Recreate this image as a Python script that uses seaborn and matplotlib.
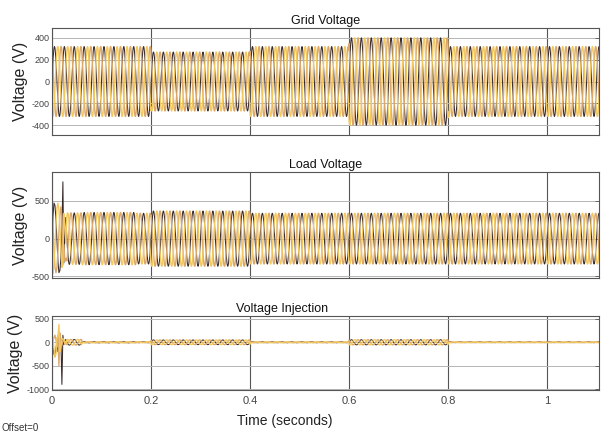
import numpy as np
import pandas as pd
import seaborn as sns
import matplotlib.pyplot as plt

# three phase waveforms, 50 Hz
phases = ['Va', 'Vb', 'Vc']
phase_shift_deg = [0, -120, 120]
freq_hz = 50

# piecewise peak amplitude (V) between these times (s)
seg_edges = [0.0, 0.03, 0.06, 0.17, 0.2, 0.4, 0.6, 0.8, 1.107]
grid_peak = [320, 320, 320, 320, 270, 320, 400, 320]
load_peak = [335, 340, 345, 335, 365, 335, 335, 335]
inject_peak = [0, 60, 12, 10, 50, 10, 55, 8]

# start-up transient, sampled every 2 ms from 0 to 0.028 s
tr_time = [0.000, 0.002, 0.004, 0.006, 0.008, 0.010, 0.012, 0.014,
           0.016, 0.018, 0.020, 0.022, 0.024, 0.026, 0.028]
load_tr = {
    'Va': [0, 300, 470, 440, 250, -20, -300, -450, -420, -250, 100, 750, -320, 120, 280],
    'Vb': [-420, -460, -330, -100, 180, 400, 470, 380, 150, -120, -380, -300, 330, 200, -60],
    'Vc': [420, 160, -140, -380, -450, -380, -170, 80, 300, 420, 300, -350, -80, -300, -260],
}
inject_tr = {
    'Va': [0, -100, -250, -300, -150, 50, -200, -120, 150, 60, -900, 150, -50, 40, 60],
    'Vb': [0, 80, -150, -320, -250, 100, 120, 380, -200, -100, 60, 80, 50, -30, -40],
    'Vc': [0, 20, 100, 150, 60, -100, 150, -500, 200, -50, -60, 20, 50, 10, -30],
}

time_label = 'Time (seconds)'
x_ticks = [0, 0.2, 0.4, 0.6, 0.8, 1]
x_tick_labels = ['0', '0.2', '0.4', '0.6', '0.8', '1']

palette = {'Va': '#3a2b2b', 'Vb': '#f3c85e', 'Vc': '#dba86a'}
widths = {'Va': 0.75, 'Vb': 1.0, 'Vc': 1.0}
draw_order = ['Va', 'Vc', 'Vb']


def build(peaks, transient=None):
    rows = []
    t_start = tr_time[-1] + 0.002 if transient else 0.0
    t = np.arange(t_start, seg_edges[-1], 0.0002)
    amp = np.array(peaks)[np.clip(np.searchsorted(seg_edges, t, side='right') - 1, 0, len(peaks) - 1)]
    for ph, sh in zip(phases, phase_shift_deg):
        v = amp * np.sin(2 * np.pi * freq_hz * t + np.deg2rad(sh))
        if transient:
            rows.append(pd.DataFrame({'time': tr_time, 'voltage': transient[ph], 'phase': ph}))
        rows.append(pd.DataFrame({'time': t, 'voltage': v, 'phase': ph}))
    return pd.concat(rows, ignore_index=True)


grid_df = build(grid_peak)
load_df = build(load_peak, load_tr)
inject_df = build(inject_peak, inject_tr)

sns.set_theme(style='white')
plt.rcParams['font.family'] = ['Liberation Sans', 'DejaVu Sans']
plt.rcParams['axes.unicode_minus'] = False

fig = plt.figure(figsize=(6.01, 4.32), dpi=100)
L, W = 52 / 601, 547 / 601
ax1 = fig.add_axes([L, 1 - 135 / 432, W, 107 / 432])
ax2 = fig.add_axes([L, 1 - 278 / 432, W, 106 / 432])
ax3 = fig.add_axes([L, 1 - 390 / 432, W, 74 / 432])

panels = [
    (ax1, grid_df, 'Grid Voltage', (-490, 490), [-400, -200, 0, 200, 400], -0.043),
    (ax2, load_df, 'Load Voltage', (-520, 880), [-500, 0, 500], -0.043),
    (ax3, inject_df, 'Voltage Injection', (-1020, 562), [-1000, -500, 0, 500], -0.053),
]

for ax, df, title, ylim, yt, lab_x in panels:
    for ph in draw_order:
        sns.lineplot(data=df[df['phase'] == ph], x='time', y='voltage',
                     color=palette[ph], estimator=None, errorbar=None, sort=False,
                     linewidth=widths[ph], ax=ax)
    ax.set_xlim(0, 1.105)
    ax.set_ylim(*ylim)
    ax.set_yticks(yt)
    ax.set_xticks(x_ticks)
    ax.set_axisbelow(True)
    ax.yaxis.grid(True, color='#b5b5b5', linewidth=0.7)
    ax.xaxis.grid(True, color='#555555', linewidth=0.8)
    for s in ax.spines.values():
        s.set_color('#555555')
        s.set_linewidth(0.8)
    ax.tick_params(direction='in', length=3, width=0.6, colors='#555555',
                   labelcolor='#444444', labelsize=6.5, top=True, right=True, pad=1.5)
    ax.set_ylabel('Voltage (V)', fontsize=11.5, color='#222222')
    ax.yaxis.set_label_coords(lab_x, 0.5)
    ax.set_xlabel('')
    ax.set_title(title, fontsize=9, color='#111111', pad=3)

ax1.set_xticklabels([])
ax2.set_xticklabels([])
ax3.set_xticklabels(x_tick_labels, fontsize=8)
ax3.tick_params(axis='x', pad=4)
ax3.set_title('Voltage Injection', fontsize=9, color='#111111', pad=3, x=0.42)
ax3.set_xlabel(time_label, fontsize=10, color='#222222')
ax3.xaxis.set_label_coords(0.425, -0.33)

fig.text(0.002, 0.003, 'Offset=0', fontsize=7, color='#333333')

fig.savefig('out.png', dpi=100)
